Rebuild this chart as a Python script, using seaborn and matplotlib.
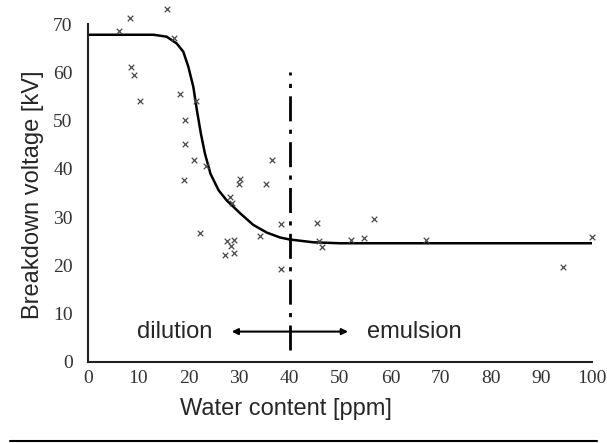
import numpy as np
import pandas as pd
import seaborn as sns
import matplotlib
matplotlib.use('Agg')
import matplotlib.pyplot as plt
from matplotlib.lines import Line2D

# measured points (water content ppm, breakdown kV)
water = [6.2, 8.3, 15.6, 17.0, 8.5, 9.2, 10.3, 18.3, 21.4, 19.3, 19.3, 21.0,
         23.4, 19.0, 30.2, 30.0, 35.3, 36.6, 28.2, 28.6, 38.2, 45.4, 22.2,
         34.1, 27.6, 29.0, 28.3, 27.2, 29.0, 38.2, 45.9, 46.5, 56.7, 52.1,
         54.8, 67.1, 100.0, 94.2]
voltage = [68.5, 71.3, 73.1, 67.1, 61.1, 59.4, 54.1, 55.6, 54.0, 50.2, 45.1, 41.9,
           40.6, 37.7, 37.9, 36.8, 36.8, 41.9, 34.2, 33.0, 28.5, 28.8, 26.8,
           26.1, 25.1, 25.3, 24.1, 22.2, 22.5, 19.3, 25.0, 23.9, 29.7, 25.3,
           25.6, 25.3, 25.9, 19.6]

# fitted trend
fit_x = [0, 13, 15.6, 17.6, 18.9, 19.9, 20.9, 21.6, 22.4, 23.2, 24.3, 25.9,
         27.5, 28.5, 30.2, 32.8, 35.5, 38.1, 39.9, 44.7, 50, 100]
fit_y = [67.8, 67.8, 67.4, 66.0, 64.3, 61.2, 57.0, 52.2, 47.3, 43.2, 39.0, 35.6,
         33.5, 32.5, 30.8, 28.4, 26.8, 25.8, 25.4, 24.8, 24.6, 24.6]

# dilution / emulsion border
border_x = [40, 40]
border_y = [2.5, 60]
arrow_y = 6.3
arrow_x = (28.5, 51.6)

xticks = [0, 10, 20, 30, 40, 50, 60, 70, 80, 90, 100]
yticks = [0, 10, 20, 30, 40, 50, 60, 70]

sns.set_style("white")
plt.rcParams['font.family'] = ['Liberation Sans', 'DejaVu Sans']

fig = plt.figure(figsize=(6.07, 4.43), dpi=100)
ax = fig.add_axes([88/607, 81/443, 504/607, 362/443])

df = pd.DataFrame({'water': water, 'voltage': voltage})
fit = pd.DataFrame({'x': fit_x, 'y': fit_y})

sns.lineplot(data=fit, x='x', y='y', ax=ax, color='black', lw=1.8)
sns.scatterplot(data=df, x='water', y='voltage', ax=ax, marker='x', s=16,
                color='#484848', linewidth=0.9, clip_on=False, zorder=3)

ax.plot(border_x, border_y, color='black', lw=2, dashes=(9, 3, 1.5, 3))
ax.annotate('', xy=(arrow_x[0], arrow_y), xytext=(arrow_x[1], arrow_y),
            arrowprops=dict(arrowstyle='<|-|>', lw=1.5, color='black',
                            mutation_scale=9, shrinkA=0, shrinkB=0))
ax.text(24.7, arrow_y, 'dilution', ha='right', va='center', fontsize=17)
ax.text(55.3, arrow_y, 'emulsion', ha='left', va='center', fontsize=17)

ax.set_xlim(0, 100)
ax.set_ylim(0, 75)
ax.set_xticks(xticks)
ax.set_yticks(yticks)
for lab in ax.get_xticklabels() + ax.get_yticklabels():
    lab.set_family('Liberation Serif')
    lab.set_fontsize(14)
    lab.set_color('#333333')
ax.tick_params(axis='x', direction='in', length=3, width=1.2, pad=6)
ax.tick_params(axis='y', direction='out', length=3, width=1.2, pad=8)

sns.despine(ax=ax)
ax.spines['left'].set_bounds(0, 70)
for s in ['left', 'bottom']:
    ax.spines[s].set_linewidth(1.5)
    ax.spines[s].set_color('#222222')

ax.set_xlabel('Water content [ppm]', fontsize=17, va='center')
ax.set_ylabel('Breakdown voltage [kV]', fontsize=17, va='center')
ax.xaxis.set_label_coords(0.393, -0.13)
ax.yaxis.set_label_coords(-0.109, 0.461)

fig.add_artist(Line2D([10/607, 597/607], [2/443, 2/443], color='black', lw=1.5))

fig.savefig('out.png', dpi=100)
